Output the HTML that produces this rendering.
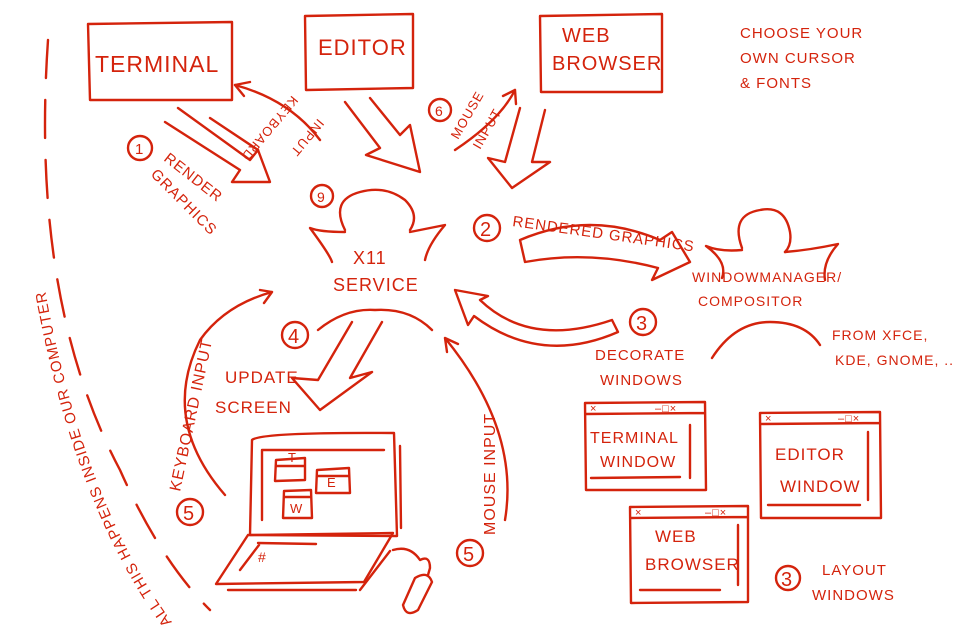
<!DOCTYPE html>
<html><head><meta charset="utf-8"><style>
html,body{margin:0;padding:0;background:#fff}
svg{display:block}
text{font-family:"Liberation Sans",sans-serif;fill:#d4230c;letter-spacing:1px}
</style></head><body>
<svg width="960" height="640" viewBox="0 0 960 640" xmlns="http://www.w3.org/2000/svg">
<g fill="none" stroke="#d4230c" stroke-width="2.4" stroke-linecap="round" stroke-linejoin="round">
<path d="M88,24 L232,22 L232,100 L90,100 Z"/>
<path d="M305,16 L413,14 L413,88 L306,90 Z"/>
<path d="M540,16 L662,14 L662,92 L541,92 Z"/>
<path d="M165,122 L240,170 L232,182 L270,182 L258,150 L250,160 L178,108"/>
<path d="M210,118 L258,150"/>
<path d="M345,102 L380,148 L366,155 L420,172 L410,125 L400,135 L370,98"/>
<path d="M520,108 L505,162 L488,158 L512,188 L550,162 L532,162 L545,110"/>
<path d="M320,140 Q290,100 235,85" />
<path d="M235,85 L250,82 M235,85 L244,96"/>
<path d="M455,150 Q500,120 515,90 M515,90 L503,96 M515,90 L516,104"/>
<path d="M345,230 Q330,200 360,192 Q385,185 405,200 Q420,215 410,230"/>
<path d="M345,232 Q320,232 310,228 Q330,255 332,262 M410,232 Q430,228 445,225 Q428,245 425,260"/>
<path d="M318,330 Q345,308 375,310 Q410,308 432,330"/>
<path d="M352,322 L318,380 L292,378 L320,410 L372,372 L350,378 L382,322"/>
<path d="M520,240 Q590,210 660,240 L672,232 L690,262 L652,280 L658,268 Q590,250 525,262 Z"/>
<path d="M612,320 Q530,348 480,300 L488,296 L455,290 L468,325 L474,316 Q540,366 618,332 Z"/>
<path d="M742,248 Q730,215 760,210 Q785,205 790,232 Q792,245 785,252"/>
<path d="M742,250 Q720,252 706,246 Q728,262 722,278 M785,252 Q810,250 838,244 Q822,262 825,280"/>
<path d="M712,358 Q735,322 770,322 Q805,322 820,345"/>
<path d="M225,495 Q160,420 200,340 Q225,305 272,292 M272,292 L260,290 M272,292 L264,303"/>
<path d="M505,520 Q520,430 445,338 M445,338 L447,352 M445,338 L458,344"/>
<path d="M48,40 Q30,300 120,470 Q160,560 210,610" stroke-dasharray="38,22"/>
<path d="M252,440 Q260,432 394,433 L397,536 L250,535 Z"/>
<path d="M262,450 L384,450 M262,450 L262,520"/>
<path d="M400,446 L401,528"/>
<path d="M276,460 L305,458 L305,480 L275,481 Z M276,466 L305,466"/>
<path d="M317,470 L349,468 L350,493 L316,493 Z M318,476 L349,476"/>
<path d="M284,491 L311,490 L312,518 L283,518 Z M285,497 L311,497"/>
<path d="M248,535 L393,533 L364,582 L216,584 Z"/>
<path d="M258,543 L316,544 M240,570 L259,545 M360,590 L390,551 M228,590 L356,590"/>
<path d="M393,550 Q410,545 420,560 Q430,555 430,568 L428,575"/>
<path d="M415,578 Q428,570 432,582 L418,610 Q406,618 403,605 Z"/>
<circle cx="140" cy="148" r="12"/>
<circle cx="322" cy="196" r="11"/>
<circle cx="440" cy="110" r="11"/>
<circle cx="487" cy="228" r="13"/>
<circle cx="295" cy="335" r="13"/>
<circle cx="643" cy="322" r="13"/>
<circle cx="190" cy="512" r="13"/>
<circle cx="470" cy="553" r="13"/>
<circle cx="788" cy="578" r="12"/>
<path d="M585,403 L705,402 L706,490 L586,490 Z M586,414 L705,413"/>
<path d="M591,478 L680,477 M690,425 L690,478"/>
<path d="M760,413 L880,412 L881,518 L761,518 Z M761,424 L880,423"/>
<path d="M768,505 L860,505 M868,432 L868,500"/>
<path d="M630,507 L748,506 L748,602 L631,603 Z M631,518 L747,517"/>
<path d="M640,590 L720,590 M738,525 L738,585"/>
</g>
<g font-size="11" fill="#d4230c">
<text x="590" y="412">×</text><text x="655" y="412">–□×</text>
<text x="765" y="422">×</text><text x="838" y="422">–□×</text>
<text x="635" y="516">×</text><text x="705" y="516">–□×</text>
</g>
<g font-size="22">
<text x="95" y="72" font-size="23" letter-spacing="2">TERMINAL</text>
<text x="318" y="55">EDITOR</text>
<text x="562" y="42" font-size="20">WEB</text>
<text x="552" y="70" font-size="20">BROWSER</text>
<text x="353" y="264" font-size="18">X11</text>
<text x="333" y="291" font-size="18">SERVICE</text>
<text x="288" y="462" font-size="13">T</text>
<text x="327" y="487" font-size="13">E</text>
<text x="290" y="513" font-size="13">W</text>
<text x="258" y="562" font-size="14">#</text>
</g>
<g font-size="15">
<text x="740" y="38">CHOOSE YOUR</text>
<text x="740" y="63">OWN CURSOR</text>
<text x="740" y="88">&amp; FONTS</text>
<text x="135" y="154" font-size="15">1</text>
<text x="317" y="202" font-size="14">9</text>
<text x="435" y="116" font-size="14">6</text>
<text x="480" y="236" font-size="20">2</text>
<text x="288" y="343" font-size="20">4</text>
<text x="636" y="330" font-size="20">3</text>
<text x="183" y="520" font-size="20">5</text>
<text x="463" y="561" font-size="20">5</text>
<text x="781" y="586" font-size="20">3</text>
<text transform="translate(163,160) rotate(38)">RENDER</text>
<text transform="translate(150,175) rotate(45)">GRAPHICS</text>
<text transform="translate(292,95) rotate(130)" font-size="13">KEYBOARD</text>
<text transform="translate(318,118) rotate(130)" font-size="13">INPUT</text>
<text transform="translate(458,140) rotate(-60)" font-size="13">MOUSE</text>
<text transform="translate(480,150) rotate(-60)" font-size="13">INPUT</text>
<text x="512" y="226" transform="rotate(8 512 226)">RENDERED GRAPHICS</text>
<text x="692" y="282" font-size="14">WINDOWMANAGER/</text>
<text x="698" y="306" font-size="14">COMPOSITOR</text>
<text x="832" y="340" font-size="14">FROM XFCE,</text>
<text x="835" y="365" font-size="14">KDE, GNOME, ..</text>
<text x="595" y="360">DECORATE</text>
<text x="600" y="385">WINDOWS</text>
<text x="225" y="383" font-size="17">UPDATE</text>
<text x="215" y="413" font-size="17">SCREEN</text>
<text x="590" y="443" font-size="16">TERMINAL</text>
<text x="600" y="467" font-size="16">WINDOW</text>
<text x="775" y="460" font-size="17">EDITOR</text>
<text x="780" y="492" font-size="17">WINDOW</text>
<text x="655" y="542" font-size="17">WEB</text>
<text x="645" y="570" font-size="17">BROWSER</text>
<text x="822" y="575">LAYOUT</text>
<text x="812" y="600">WINDOWS</text>
<text transform="translate(180,492) rotate(-78)" font-size="16" letter-spacing="4">KEYBOARD INPUT</text>
<text transform="translate(495,535) rotate(-90)" font-size="16" letter-spacing="3">MOUSE INPUT</text>
</g>
<defs><path id="arcp" d="M172,622 Q60,470 28,170"/></defs>
<text font-size="15" letter-spacing="5"><textPath href="#arcp">ALL THIS HAPPENS INSIDE OUR COMPUTER</textPath></text>
</svg>
</body></html>
